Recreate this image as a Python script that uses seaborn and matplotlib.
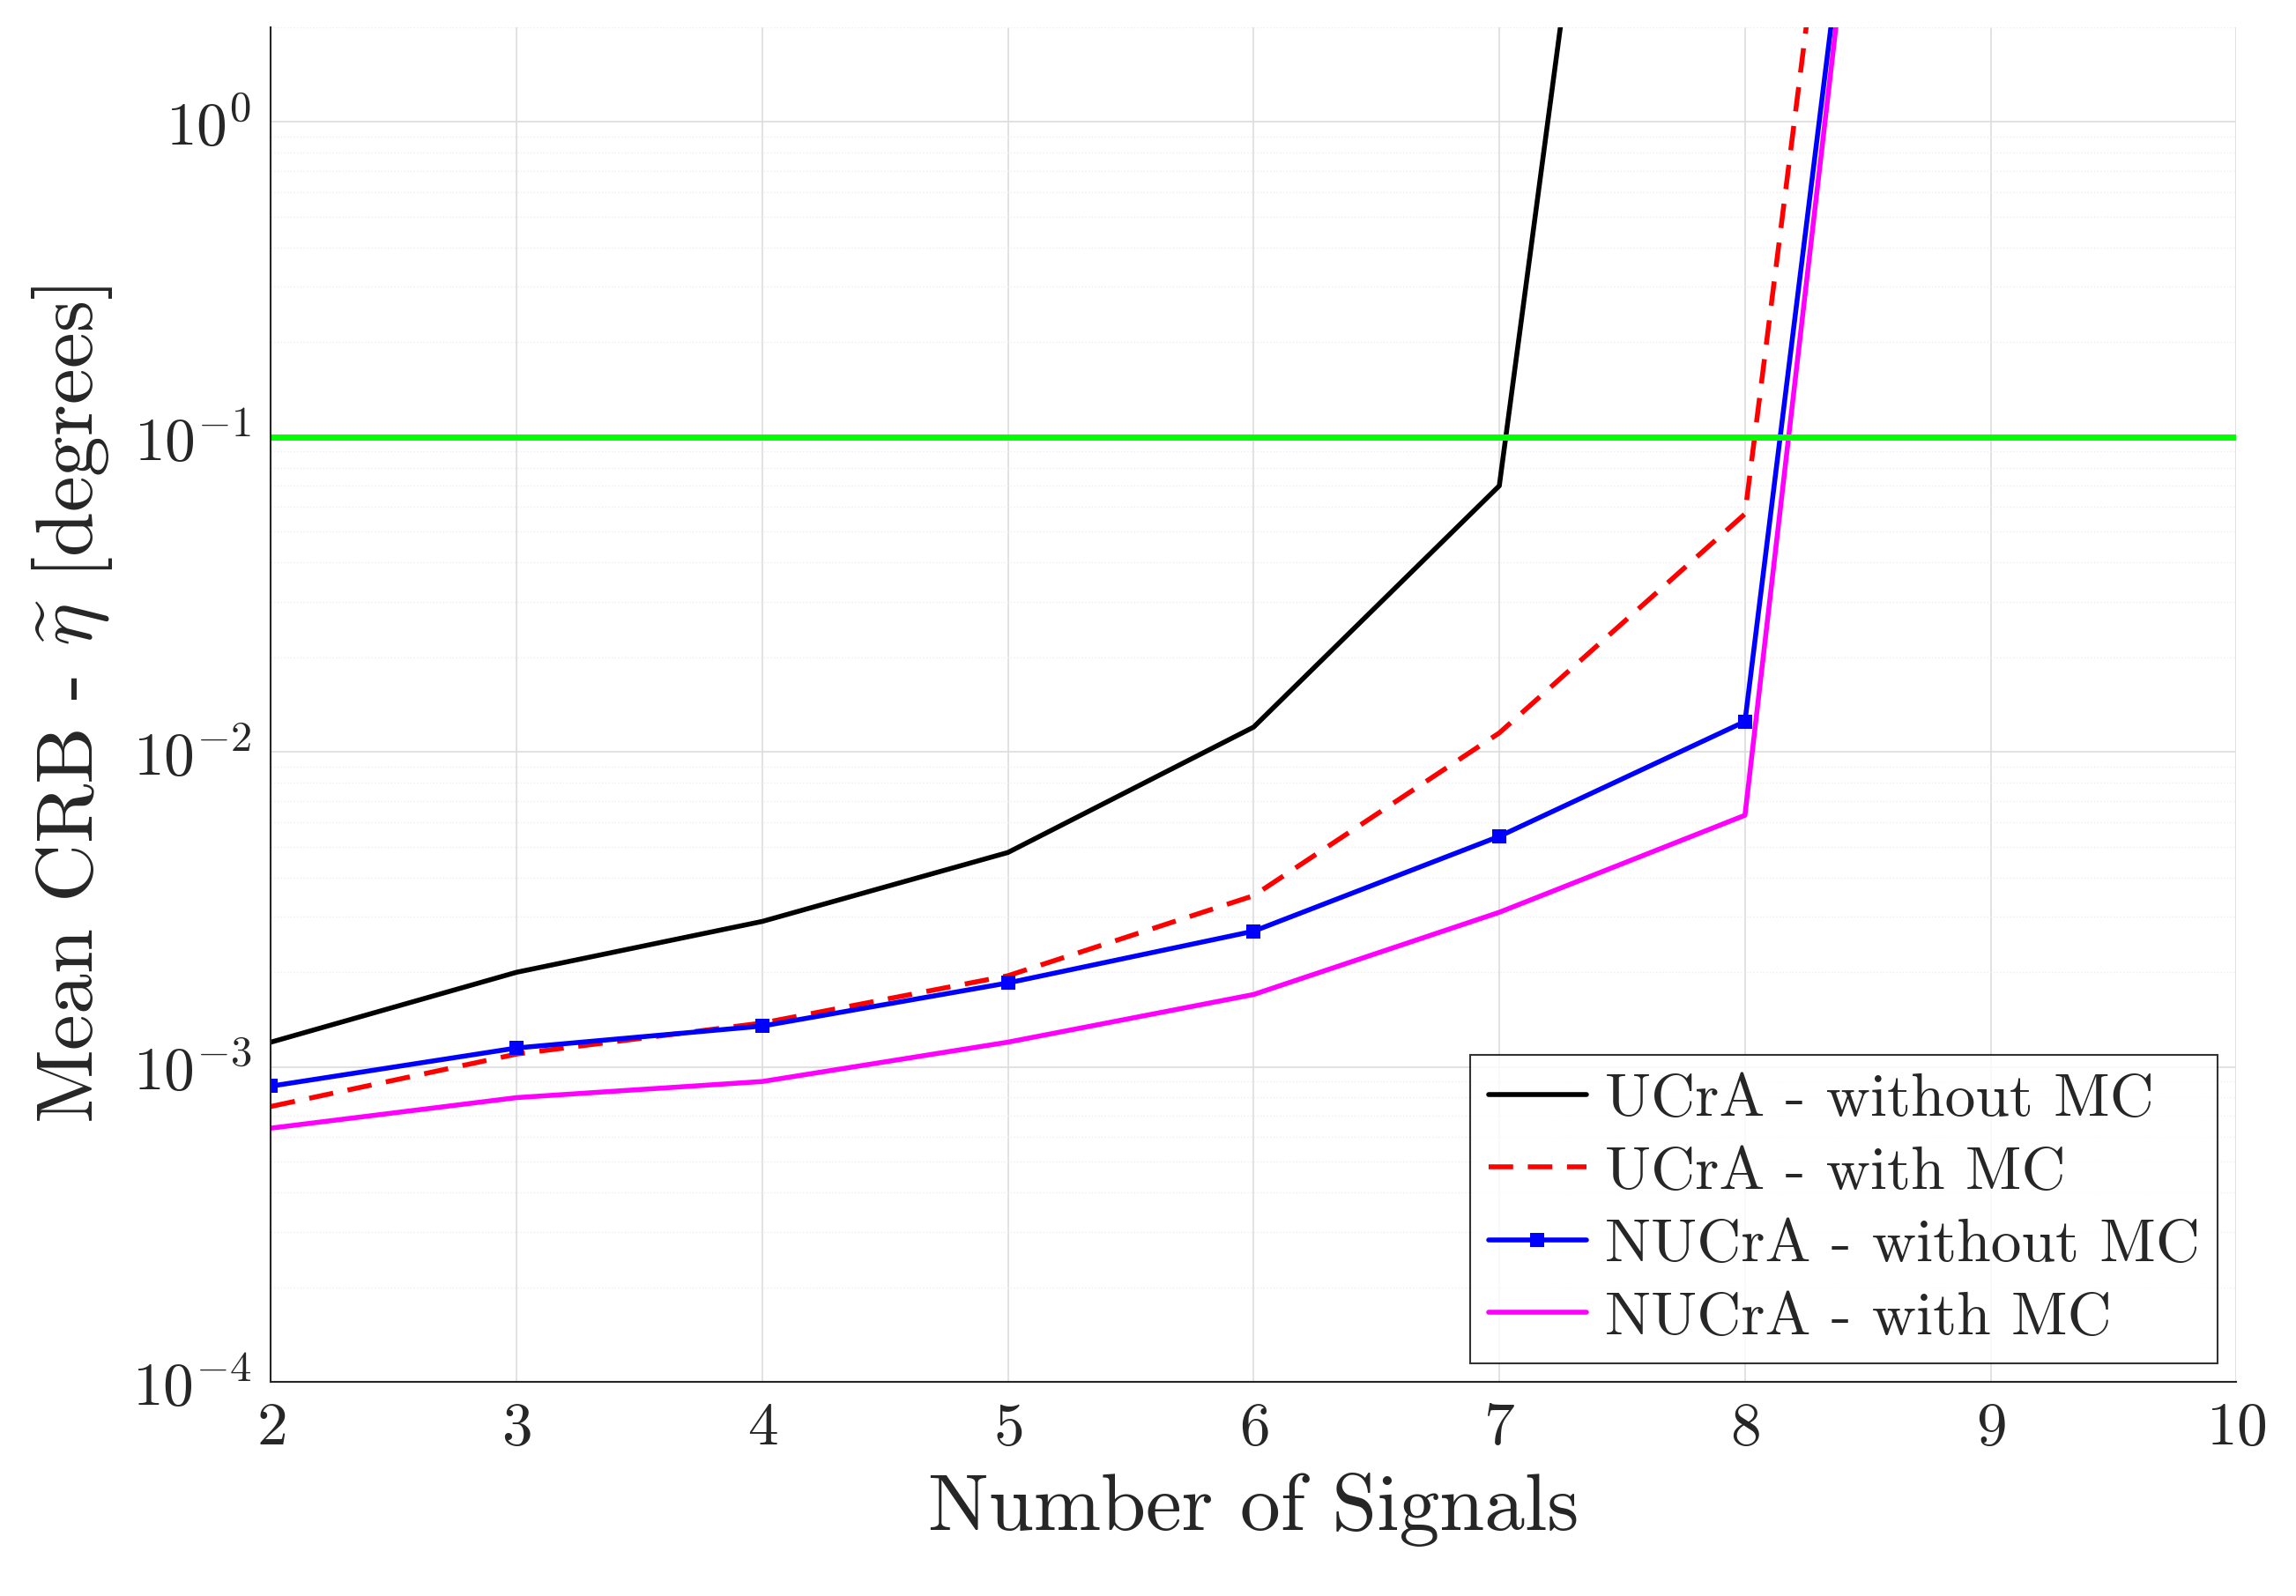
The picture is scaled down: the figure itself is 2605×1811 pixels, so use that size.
import matplotlib
matplotlib.use("Agg")
import matplotlib.pyplot as plt
import seaborn as sns
import pandas as pd
import numpy as np

x = [2, 3, 4, 5, 6, 7, 8, 9]
ucra_wo = [1.2e-3, 2.0e-3, 2.9e-3, 4.8e-3, 1.2e-2, 0.07, 5e4, 1e8]
ucra_w = [7.5e-4, 1.1e-3, 1.38e-3, 1.95e-3, 3.5e-3, 1.15e-2, 0.057, 9e4]
nucra_wo = [8.7e-4, 1.15e-3, 1.35e-3, 1.85e-3, 2.7e-3, 5.4e-3, 1.25e-2, 2.5e4]
nucra_w = [6.4e-4, 8.0e-4, 9.0e-4, 1.2e-3, 1.7e-3, 3.1e-3, 6.3e-3, 3.6e4]
threshold = 0.1

sns.set_style("white")
plt.rcParams.update({"font.family": "serif", "font.serif": ["cmr10"],
                     "mathtext.fontset": "cm", "axes.formatter.use_mathtext": True,
                     "axes.unicode_minus": False})
fig = plt.figure(figsize=(26.05, 18.11), dpi=100)
ax = fig.add_axes([0.118, 0.134, 0.856, 0.849])

df = pd.DataFrame({"x": x, "a": ucra_wo, "b": ucra_w, "c": nucra_wo, "d": nucra_w})
sns.lineplot(data=df, x="x", y="a", ax=ax, color="black", lw=4, label="UCrA - without MC")
sns.lineplot(data=df, x="x", y="b", ax=ax, color="#ff0000", lw=4, label="UCrA - with MC")
ax.lines[-1].set_dashes([5, 3])
sns.lineplot(data=df, x="x", y="c", ax=ax, color="#0000ff", lw=4, marker="s", markersize=11,
             markeredgewidth=0, label="NUCrA - without MC")
sns.lineplot(data=df, x="x", y="d", ax=ax, color="#ff00ff", lw=4, label="NUCrA - with MC")
ax.axhline(threshold, color="#00ff00", lw=5)

ax.set_yscale("log")
ax.set_xlim(2, 10)
ax.set_ylim(1e-4, 2.0)
ax.set_xticks(range(2, 11))
ax.set_yticks([1e-4, 1e-3, 1e-2, 1e-1, 1e0])
ax.grid(True, which="major", color="#dddddd", lw=1.2)
ax.grid(True, which="minor", color="#eeeeee", lw=1.0, ls=":")
ax.tick_params(labelsize=50, direction="in", length=10, which="major", pad=16)
ax.tick_params(which="minor", direction="in", length=5)
for s in ["top", "right"]:
    ax.spines[s].set_visible(False)
for s in ["left", "bottom"]:
    ax.spines[s].set_linewidth(1.5)
ax.set_xlabel("Number of Signals", fontsize=66, labelpad=14)
ax.set_ylabel(r"Mean CRB - $\widetilde{\eta}$ [degrees]", fontsize=66, labelpad=14)
leg = ax.legend(loc="lower right", fontsize=50, frameon=True, fancybox=False,
                edgecolor="black", handlelength=1.6, borderaxespad=0.3, handletextpad=0.3,
                borderpad=0.3, labelspacing=0.3)
leg.get_frame().set_linewidth(1.5)
fig.savefig("out.png", dpi=100)
